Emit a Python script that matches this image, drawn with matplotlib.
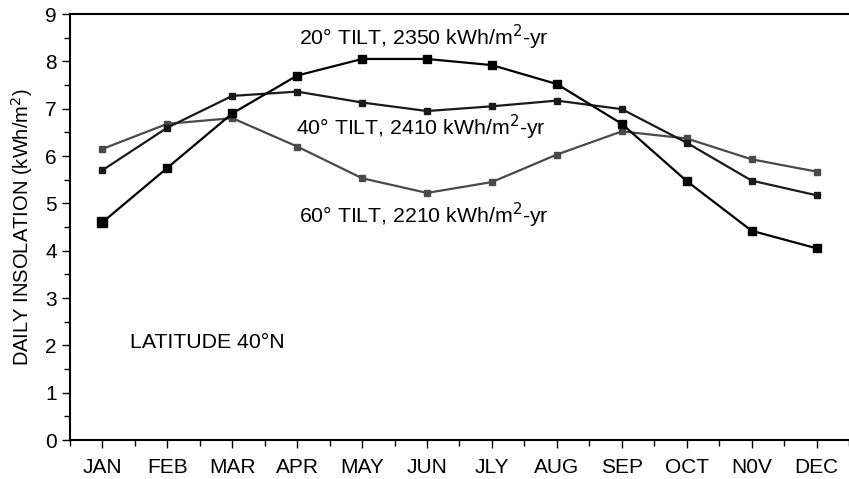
import numpy as np
import matplotlib
matplotlib.use('Agg')
import matplotlib.pyplot as plt

plt.rcParams['font.family'] = ['Liberation Sans', 'DejaVu Sans']

months = ['JAN', 'FEB', 'MAR', 'APR', 'MAY', 'JUN', 'JLY', 'AUG', 'SEP', 'OCT', 'N0V', 'DEC']
tilt20 = [4.60, 5.75, 6.90, 7.70, 8.05, 8.05, 7.92, 7.52, 6.68, 5.47, 4.42, 4.05]
tilt40 = [5.70, 6.60, 7.27, 7.36, 7.13, 6.95, 7.05, 7.17, 6.99, 6.28, 5.48, 5.17]
tilt60 = [6.15, 6.68, 6.80, 6.20, 5.53, 5.22, 5.45, 6.03, 6.52, 6.37, 5.93, 5.67]

x = np.arange(1, len(months) + 1)

fig = plt.figure(figsize=(8.49, 4.79), dpi=100)
ax = fig.add_axes([70 / 849, 1 - 440 / 479, 1 - 70 / 849, 426 / 479])

ax.plot(x, tilt60, color='#4a4a4a', lw=1.6, marker='s', ms=4.8, clip_on=False)
ax.plot(x, tilt40, color='#1a1a1a', lw=1.6, marker='s', ms=4.8, clip_on=False)
ax.plot(x, tilt20, color='black', lw=1.6, marker='s', ms=5.2, clip_on=False)
# first point of the 20 deg series is drawn a bit larger
ax.plot(x[:1], tilt20[:1], color='black', marker='s', ms=6.8, ls='none')

ax.set_xlim(0.5, 12.5)
ax.set_ylim(0, 9)
ax.set_xticks(x)
ax.set_xticklabels(months, fontsize=15)
ax.set_xticks(np.arange(0.5, 12.6, 1), minor=True)
ax.set_yticks(range(10))
ax.set_yticks(np.arange(0.5, 9, 1), minor=True)
ax.tick_params(which='both', direction='out', width=1)
ax.tick_params(axis='y', labelsize=15)
ax.tick_params(which='major', length=6)
ax.tick_params(which='minor', length=4)
ax.tick_params(axis='x', pad=7)
ax.spines['right'].set_visible(False)
for s in ['left', 'bottom', 'top']:
    ax.spines[s].set_linewidth(1.5)

ax.set_ylabel('DAILY INSOLATION (kWh/m$^2$)', fontsize=14.5, labelpad=7)

ax.text(5.95, 8.5, '20° TILT, 2350 kWh/m$^2$-yr', fontsize=15.3, ha='center', va='center')
ax.text(5.9, 6.6, '40° TILT, 2410 kWh/m$^2$-yr', fontsize=15.3, ha='center', va='center')
ax.text(5.95, 4.75, '60° TILT, 2210 kWh/m$^2$-yr', fontsize=15.3, ha='center', va='center')
ax.text(1.42, 2.05, 'LATITUDE 40°N', fontsize=15.3, ha='left', va='center')

fig.savefig('out.png', dpi=100)
